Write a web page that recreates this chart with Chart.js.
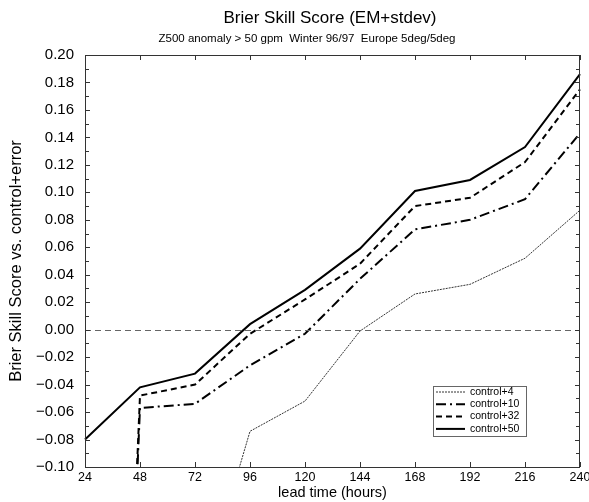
<!DOCTYPE html>
<html>
<head>
<meta charset="UTF-8">
<title>Brier Skill Score (EM+stdev)</title>
<script src="https://cdn.jsdelivr.net/npm/chart.js"></script>
<style>
  html, body { margin: 0; padding: 0; background: #fff; }
  #wrap { width: 589px; height: 502px; }
</style>
</head>
<body>
<div id="wrap"><canvas id="bss"></canvas></div>
<script>
// lead time (hours)
const leadTimes = [24, 48, 72, 96, 120, 144, 168, 192, 216, 240];
// Brier skill score per run; values below -0.10 run off the bottom of the frame
const control4  = [null, null, -0.21, -0.074, -0.052, -0.001, 0.026, 0.033, 0.052, 0.087];
const control10 = [-1.0, -0.057, -0.054, -0.026, -0.003, 0.037, 0.073, 0.080, 0.095, 0.143];
const control32 = [-1.0, -0.048, -0.040, -0.003, 0.022, 0.048, 0.090, 0.096, 0.122, 0.175];
const control50 = [-0.080, -0.042, -0.032, 0.004, 0.029, 0.059, 0.101, 0.109, 0.133, 0.186];
const yTicks = [-0.10, -0.08, -0.06, -0.04, -0.02, 0.00, 0.02, 0.04, 0.06, 0.08, 0.10, 0.12, 0.14, 0.16, 0.18, 0.20];

const FONT = "'Liberation Sans', Arial, Helvetica, sans-serif";

function fmt(v) {
  const s = Math.abs(v).toFixed(2);
  return v < -1e-9 ? "\u2212" + s : s;
}

// title, zero line, inside ticks, frame and the boxed legend
const decor = {
  id: "decor",
  afterDatasetsDraw(chart) {
    const ctx = chart.ctx;
    const a = chart.chartArea;
    const x = chart.scales.x, y = chart.scales.y;
    ctx.save();

    // dashed zero line
    ctx.strokeStyle = "#666";
    ctx.lineWidth = 1;
    ctx.setLineDash([6, 4]);
    const y0 = Math.round(y.getPixelForValue(0)) + 0.5;
    ctx.beginPath();
    ctx.moveTo(a.left, y0);
    ctx.lineTo(a.right, y0);
    ctx.stroke();
    ctx.setLineDash([]);

    // frame
    ctx.strokeStyle = "#333";
    ctx.strokeRect(a.left + 0.5, a.top + 0.5, a.right - a.left - 1, a.bottom - a.top);

    // minor/major ticks pointing inward
    ctx.beginPath();
    for (let i = -10; i <= 20; i++) {
      const py = Math.round(y.getPixelForValue(i / 100)) + 0.5;
      const len = i % 2 === 0 ? 5 : 4;
      ctx.moveTo(a.left, py); ctx.lineTo(a.left + len, py);
      ctx.moveTo(a.right, py); ctx.lineTo(a.right - len, py);
    }
    leadTimes.forEach((t, i) => {
      const px = Math.round(x.getPixelForValue(i)) + 0.5;
      ctx.moveTo(px, a.bottom); ctx.lineTo(px, a.bottom - 5);
      ctx.moveTo(px, a.top); ctx.lineTo(px, a.top + 5);
    });
    ctx.stroke();

    // legend box
    const bx = a.right - 147, by = a.bottom - 81, bw = 93, bh = 50;
    ctx.fillStyle = "#fff";
    ctx.fillRect(bx, by, bw, bh);
    ctx.strokeStyle = "#666";
    ctx.strokeRect(bx + 0.5, by + 0.5, bw, bh);
    ctx.font = "10.5px " + FONT;
    ctx.textBaseline = "middle";
    ctx.fillStyle = "#000";
    chart.data.datasets.forEach((ds, i) => {
      const ry = by + 6 + i * 12.3;
      ctx.strokeStyle = ds.borderColor;
      ctx.lineWidth = ds.borderWidth;
      ctx.setLineDash(ds.borderDash || []);
      ctx.beginPath();
      ctx.moveTo(bx + 3, ry);
      ctx.lineTo(bx + 32, ry);
      ctx.stroke();
      ctx.setLineDash([]);
      ctx.fillText(ds.label, bx + 37, ry);
    });

    // titles
    ctx.textAlign = "center";
    ctx.font = "17px " + FONT;
    ctx.fillText("Brier Skill Score (EM+stdev)", 330, 18);
    ctx.font = "11.5px " + FONT;
    ctx.fillText("Z500 anomaly > 50 gpm  Winter 96/97  Europe 5deg/5deg", 307, 39);
    ctx.restore();
  }
};

new Chart(document.getElementById("bss"), {
  type: "line",
  data: {
    labels: leadTimes.map(String),
    datasets: [
      { label: "control+4", data: control4, borderColor: "#333", borderWidth: 1, borderDash: [2, 1] },
      { label: "control+10", data: control10, borderColor: "#000", borderWidth: 2, borderDash: [10, 4, 2, 4] },
      { label: "control+32", data: control32, borderColor: "#000", borderWidth: 2, borderDash: [6, 4] },
      { label: "control+50", data: control50, borderColor: "#000", borderWidth: 2 }
    ]
  },
  options: {
    responsive: true,
    maintainAspectRatio: false,
    animation: false,
    layout: { padding: { top: 55, right: 0, left: 0, bottom: 0 } },
    elements: { point: { radius: 0 }, line: { tension: 0, fill: false } },
    plugins: { legend: { display: false }, tooltip: { enabled: false } },
    scales: {
      x: {
        offset: false,
        grid: { display: false, drawTicks: false },
        border: { display: false },
        ticks: { color: "#000", padding: 3, maxRotation: 0, autoSkip: false, font: { family: FONT, size: 12.5 } },
        title: { display: true, text: "lead time (hours)", color: "#000", padding: 0, font: { family: FONT, size: 14.5 } },
        afterFit(s) { s.height = 35; s.paddingRight = 9; s.paddingLeft = 0; }
      },
      y: {
        min: -0.10,
        max: 0.20,
        grid: { display: false, drawTicks: false },
        border: { display: false },
        afterBuildTicks(s) { s.ticks = yTicks.map(v => ({ value: v })); },
        ticks: { color: "#000", padding: 11, callback: v => fmt(v), font: { family: FONT, size: 15 } },
        title: { display: true, text: "Brier Skill Score vs. control+error", color: "#000", padding: { top: 7, bottom: 0 }, font: { family: FONT, size: 16.5 } },
        afterFit(s) { s.width = 85; }
      }
    }
  },
  plugins: [decor]
});
</script>
</body>
</html>
